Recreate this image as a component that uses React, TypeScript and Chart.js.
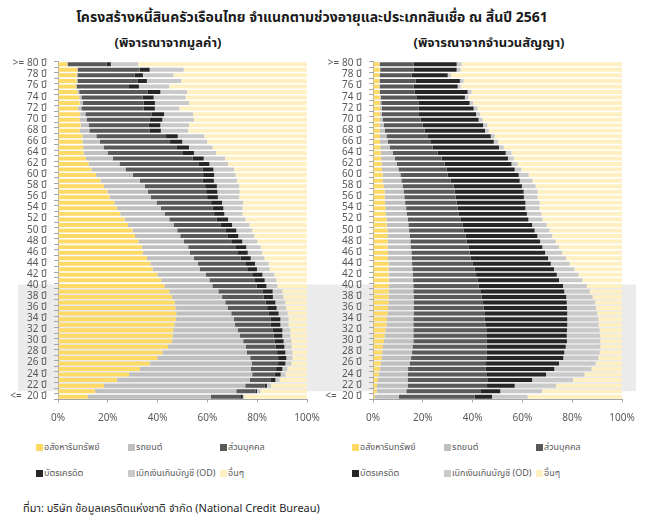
import React, { useEffect, useRef } from 'react';
import { Chart, registerables } from 'chart.js';

Chart.register(...registerables);

// ---------- DATA ----------
const AGES = [
  20, 21, 22, 23, 24, 25, 26, 27, 28, 29,
  30, 31, 32, 33, 34, 35, 36, 37, 38, 39,
  40, 41, 42, 43, 44, 45, 46, 47, 48, 49,
  50, 51, 52, 53, 54, 55, 56, 57, 58, 59,
  60, 61, 62, 63, 64, 65, 66, 67, 68, 69,
  70, 71, 72, 73, 74, 75, 76, 77, 78, 79,
  80,
];
const FIRST_LABEL = '<=  20 ปี';
const LAST_LABEL = '>= 80 ปี';
const AGE_UNIT = 'ปี';

const TITLE = 'โครงสร้างหนี้สินครัวเรือนไทย จำแนกตามช่วงอายุและประเภทสินเชื่อ ณ สิ้นปี 2561';
const SUBTITLE_LEFT = '(พิจารณาจากมูลค่า)';
const SUBTITLE_RIGHT = '(พิจารณาจากจำนวนสัญญา)';
const SOURCE = 'ที่มา: บริษัท ข้อมูลเครดิตแห่งชาติ จำกัด (National Credit Bureau)';

const SERIES_NAMES = ['อสังหาริมทรัพย์', 'รถยนต์', 'ส่วนบุคคล', 'บัตรเครดิต', 'เบิกเงินเกินบัญชี (OD)', 'อื่นๆ'];
const SERIES_COLORS = ['#FFD966', '#BFBFBF', '#595959', '#262626', '#C9C9C9', '#FFF0C2'];

const X_TICKS = [0, 20, 40, 60, 80, 100];
const BAND_TOP_AGE = 40;
const BAND_BOTTOM_AGE = 21;

// share of outstanding value (%), ages 20..80
const valueRealEstate = [
  11.9, 14.9, 18.5, 23.6, 28.5, 32.9, 36.8, 39.9, 41.9, 44.2,
  45.8, 46.1, 46.3, 46.7, 47.3, 47.5, 47.1, 46.9, 45.8, 44.7,
  42.7, 41.4, 39.9, 38.0, 37.1, 35.7, 34.1, 33.7, 32.3, 30.9,
  29.9, 28.1, 26.7, 25.0, 23.6, 22.6, 20.7, 19.9, 18.4, 17.0,
  15.3, 13.4, 12.3, 11.1, 10.3, 10.1, 9.8, 9.8, 8.7, 9.1,
  8.7, 8.9, 7.9, 8.7, 8.5, 7.8, 7.2, 7.5, 7.5, 7.7,
  3.6,
];
const valueCar = [
  49.4, 56.7, 56.7, 53.5, 49.5, 44.6, 41.0, 37.3, 34.0, 31.2,
  28.6, 27.0, 25.9, 24.4, 23.4, 22.1, 21.0, 20.3, 20.1, 19.7,
  19.3, 19.4, 19.4, 18.9, 19.1, 18.9, 18.9, 18.6, 18.3, 18.2,
  18.0, 18.3, 18.0, 17.8, 17.7, 17.0, 16.5, 16.2, 16.4, 15.9,
  14.8, 13.7, 12.4, 10.9, 9.6, 8.2, 7.0, 5.6, 3.9, 3.2,
  2.8, 2.1, 1.5, 1.2, 0.9, 0.7, 0.3, 0.3, 0.3, 0.2,
  0.3,
];
const valuePersonal = [
  12.2, 7.7, 7.8, 8.4, 9.1, 10.1, 10.6, 11.2, 12.1, 12.0,
  12.5, 13.5, 14.1, 14.4, 14.8, 15.1, 15.9, 16.2, 16.7, 17.7,
  17.8, 18.3, 18.7, 19.1, 19.0, 18.8, 19.0, 18.9, 19.0, 18.9,
  19.3, 19.0, 19.1, 19.9, 20.8, 21.9, 22.7, 23.4, 24.3, 25.1,
  28.2, 30.9, 31.9, 32.1, 30.3, 29.5, 28.2, 28.0, 24.3, 24.2,
  25.4, 26.7, 25.0, 24.5, 24.6, 27.6, 21.0, 24.1, 22.9, 24.9,
  15.6,
];
const valueCreditCard = [
  0.7, 0.6, 0.9, 1.8, 2.3, 2.5, 2.9, 3.3, 3.3, 3.5,
  3.7, 3.5, 3.8, 3.8, 3.8, 3.9, 3.8, 3.9, 3.7, 4.1,
  3.9, 3.9, 4.1, 3.9, 3.9, 4.0, 4.2, 4.4, 4.4, 4.4,
  4.4, 4.5, 4.5, 4.1, 4.3, 4.4, 4.3, 4.5, 4.7, 4.6,
  4.4, 4.4, 4.2, 4.4, 4.4, 4.8, 4.9, 4.7, 4.4, 4.6,
  5.0, 4.9, 4.5, 4.5, 4.4, 5.0, 4.0, 3.8, 3.4, 4.0,
  1.7,
];
const valueOD = [
  0.6, 1.4, 1.6, 1.7, 2.0, 2.0, 2.4, 2.4, 2.8, 2.9,
  3.1, 3.2, 3.1, 3.3, 3.3, 3.6, 3.8, 4.0, 4.2, 3.9,
  4.4, 4.7, 4.8, 5.1, 5.5, 5.5, 5.7, 5.8, 6.1, 6.4,
  6.4, 7.0, 7.0, 7.3, 7.7, 8.5, 8.6, 9.0, 9.0, 9.3,
  8.6, 8.3, 7.5, 8.6, 8.9, 9.5, 10.0, 10.7, 11.0, 11.5,
  12.7, 11.6, 9.8, 13.7, 12.9, 10.7, 12.2, 13.8, 12.3, 13.7,
  11.0,
];
const valueOther = [
  25.2, 18.7, 14.5, 11.0, 8.6, 7.9, 6.3, 5.9, 5.9, 6.2,
  6.3, 6.7, 6.8, 7.4, 7.4, 7.8, 8.4, 8.7, 9.5, 9.9,
  11.9, 12.3, 13.1, 15.0, 15.4, 17.1, 18.1, 18.6, 19.9, 21.2,
  22.0, 23.1, 24.7, 25.9, 25.9, 25.6, 27.2, 27.0, 27.2, 28.1,
  28.7, 29.3, 31.7, 32.9, 36.5, 37.9, 40.1, 41.2, 47.7, 47.4,
  45.4, 45.8, 51.3, 47.4, 48.7, 48.2, 55.3, 50.5, 53.6, 49.5,
  67.8,
];

// share of number of contracts (%), ages 20..80
const countRealEstate = [
  0.7, 1.5, 1.6, 1.9, 2.3, 2.7, 3.1, 3.5, 3.7, 4.0,
  4.4, 4.7, 5.0, 5.4, 5.6, 5.9, 6.0, 6.2, 6.3, 6.3,
  6.3, 6.3, 6.3, 6.2, 6.2, 6.0, 6.0, 5.9, 5.9, 5.8,
  5.8, 5.5, 5.4, 5.1, 5.0, 4.8, 4.7, 4.7, 4.3, 4.0,
  3.9, 3.6, 3.5, 3.3, 3.1, 2.9, 2.8, 2.8, 2.7, 2.7,
  2.7, 2.8, 2.8, 2.8, 2.7, 2.5, 2.5, 2.5, 2.5, 2.7,
  2.5,
];
const countCar = [
  9.7, 11.9, 12.3, 12.0, 11.6, 11.4, 11.6, 11.8, 12.0, 11.9,
  11.8, 11.5, 11.2, 10.8, 10.6, 10.4, 10.3, 10.1, 10.0, 9.9,
  9.9, 9.8, 9.6, 9.6, 9.5, 9.5, 9.4, 9.2, 9.1, 8.9,
  8.7, 8.7, 8.5, 8.4, 8.3, 8.1, 7.9, 7.6, 7.6, 7.4,
  7.1, 6.6, 6.1, 5.5, 4.8, 3.8, 3.2, 2.6, 2.0, 1.6,
  1.2, 0.7, 0.7, 0.5, 0.4, 0.3, 0.3, 0.3, 0.3, 0.2,
  0.3,
];
const countPersonal = [
  30.4, 29.7, 31.9, 32.0, 31.6, 31.1, 30.7, 30.2, 29.9, 29.7,
  29.4, 29.3, 29.3, 28.9, 28.6, 28.4, 28.1, 27.9, 27.3, 26.9,
  26.2, 25.8, 25.5, 25.0, 24.2, 23.7, 23.4, 23.2, 22.6, 22.4,
  21.8, 21.7, 21.2, 21.0, 20.7, 20.7, 20.6, 20.5, 20.5, 19.7,
  19.0, 19.4, 19.2, 18.8, 18.1, 17.3, 17.0, 16.4, 16.0, 15.6,
  15.2, 15.0, 14.8, 14.9, 14.3, 13.9, 13.5, 14.3, 12.7, 13.4,
  13.5,
];
const countCreditCard = [
  7.0, 8.0, 11.1, 18.0, 24.0, 27.6, 29.3, 30.9, 31.2, 31.8,
  32.3, 32.3, 32.4, 32.9, 33.2, 33.3, 33.5, 33.6, 34.0, 33.7,
  33.9, 32.8, 32.4, 31.9, 31.5, 31.1, 30.3, 29.7, 29.5, 28.9,
  28.6, 28.0, 27.3, 27.3, 27.2, 27.6, 27.4, 27.7, 27.4, 27.8,
  28.5, 27.3, 26.8, 26.6, 27.3, 26.6, 25.5, 25.5, 24.3, 24.3,
  23.3, 22.9, 22.1, 20.6, 19.5, 21.3, 17.7, 17.8, 14.5, 17.3,
  17.3,
];
const countOD = [
  14.3, 16.8, 16.6, 16.4, 15.4, 14.9, 14.7, 14.1, 14.2, 13.9,
  13.4, 13.4, 13.1, 12.6, 12.5, 12.1, 11.7, 11.4, 10.6, 10.2,
  9.6, 9.4, 8.8, 8.2, 7.6, 7.2, 6.9, 6.7, 6.3, 6.0,
  6.0, 5.8, 5.7, 5.8, 5.7, 5.7, 5.5, 5.6, 5.5, 5.2,
  4.0, 2.7, 2.5, 2.3, 2.3, 1.9, 1.8, 1.6, 1.5, 1.7,
  1.6, 1.6, 1.6, 1.4, 1.5, 1.6, 1.2, 1.5, 1.3, 1.6,
  2.0,
];
const countOther = [
  37.9, 32.1, 26.5, 19.7, 15.1, 12.3, 10.6, 9.5, 9.0, 8.7,
  8.7, 8.8, 9.0, 9.4, 9.5, 9.9, 10.4, 10.8, 11.8, 13.0,
  14.1, 15.9, 17.4, 19.1, 21.0, 22.5, 24.0, 25.3, 26.6, 28.0,
  29.1, 30.3, 31.9, 32.4, 33.1, 33.1, 33.9, 33.9, 34.7, 35.9,
  37.5, 40.4, 41.9, 43.5, 44.4, 47.5, 49.7, 51.1, 53.5, 54.1,
  56.0, 57.0, 58.0, 59.8, 61.6, 60.4, 64.8, 63.6, 68.7, 64.8,
  64.4,
];

const VALUE_SERIES = [valueRealEstate, valueCar, valuePersonal, valueCreditCard, valueOD, valueOther];
const COUNT_SERIES = [countRealEstate, countCar, countPersonal, countCreditCard, countOD, countOther];

// ---------- STYLE ----------
const FONT = "'Noto Sans Thai', Tahoma, 'Noto Sans', 'DejaVu Sans', sans-serif";
const TEXT_GRAY = '#595959';
const AXIS_GRAY = '#A6A6A6';
const BAND_COLOR = '#EBEBEB';

function ageLabel(age: number, i: number) {
  if (i === 0) return FIRST_LABEL;
  if (i === AGES.length - 1) return LAST_LABEL;
  return `${age} ${AGE_UNIT}`;
}

const bandPlugin = {
  id: 'ageBand',
  beforeDraw(chart: any, _args: any, opts: any) {
    const y = chart.scales.y;
    const area = chart.chartArea;
    const step = Math.abs(y.getPixelForValue(1) - y.getPixelForValue(0));
    const top = y.getPixelForValue(AGES.indexOf(BAND_TOP_AGE)) - step * 0.25;
    const bottom = y.getPixelForValue(AGES.indexOf(BAND_BOTTOM_AGE));
    const left = opts.extendLeft === 'canvas' ? 0 : area.left - opts.extendLeft;
    const right = opts.extendRight === 'canvas' ? chart.width : area.right + opts.extendRight;
    const ctx = chart.ctx;
    ctx.save();
    ctx.fillStyle = BAND_COLOR;
    ctx.fillRect(left, Math.min(top, bottom), right - left, Math.abs(bottom - top));
    ctx.restore();
  },
};

interface PanelProps {
  series: number[][];
  width: number;
  height: number;
  axisWidth: number;
  padRight: number;
  padTop: number;
  xAxisHeight: number;
  bandLeft: number | 'canvas';
  bandRight: number | 'canvas';
}

function Panel(props: PanelProps) {
  const ref = useRef<HTMLCanvasElement>(null);
  useEffect(() => {
    if (!ref.current) return;
    const chart = new Chart(ref.current, {
      type: 'bar',
      data: {
        labels: AGES.map((a, i) => ageLabel(a, i)),
        datasets: SERIES_NAMES.map((name, k) => ({
          label: name,
          data: props.series[k],
          backgroundColor: SERIES_COLORS[k],
          borderWidth: 0,
          barPercentage: 0.72,
          categoryPercentage: 1,
        })),
      },
      options: {
        indexAxis: 'y',
        animation: false,
        responsive: false,
        devicePixelRatio: 1,
        layout: { padding: { left: 0, right: props.padRight, top: props.padTop, bottom: 0 } },
        plugins: {
          legend: { display: false },
          tooltip: { enabled: false },
          title: { display: false },
          ageBand: { extendLeft: props.bandLeft, extendRight: props.bandRight },
        } as any,
        scales: {
          x: {
            stacked: true,
            min: 0,
            max: 100,
            afterFit: (s: any) => {
              s.height = props.xAxisHeight;
              s.paddingLeft = 0;
              s.paddingRight = 0;
            },
            afterBuildTicks: (s: any) => { s.ticks = X_TICKS.map((v) => ({ value: v })); },
            border: { display: true, color: AXIS_GRAY, width: 1 },
            grid: { display: true, drawOnChartArea: false, drawTicks: true, tickLength: 3, color: AXIS_GRAY },
            ticks: {
              padding: 10,
              color: TEXT_GRAY,
              font: { family: FONT, size: 10 },
              callback: (v: any) => `${v}%`,
            },
          },
          y: {
            stacked: true,
            reverse: true,
            afterFit: (s: any) => {
              s.width = props.axisWidth;
              s.paddingTop = 0;
              s.paddingBottom = 0;
            },
            border: { display: true, color: AXIS_GRAY, width: 1 },
            grid: { display: true, drawOnChartArea: false, drawTicks: true, tickLength: 4, color: AXIS_GRAY, offset: true },
            ticks: {
              autoSkip: false,
              padding: 7,
              color: TEXT_GRAY,
              font: { family: FONT, size: 10 },
              callback: function (this: any, _v: any, i: number) {
                return (AGES[i] - AGES[0]) % 2 === 0 ? this.getLabelForValue(i) : '';
              },
            },
          },
        },
      },
      plugins: [bandPlugin],
    } as any);
    return () => chart.destroy();
  }, []);
  return <canvas ref={ref} width={props.width} height={props.height} style={{ display: 'block' }} />;
}

function Legend({ left, top }: { left: number; top: number }) {
  const colX = [0, 92, 184];
  const rowY = [0, 26];
  return (
    <>
      {SERIES_NAMES.map((name, k) => (
        <div
          key={name}
          style={{
            position: 'absolute',
            left: left + colX[k % 3],
            top: top + rowY[Math.floor(k / 3)],
            display: 'flex',
            alignItems: 'center',
            height: 14,
            fontSize: 9,
            color: TEXT_GRAY,
            whiteSpace: 'nowrap',
          }}
        >
          <span style={{ display: 'inline-block', width: 7, height: 7, background: SERIES_COLORS[k], marginRight: 1 }} />
          <span>{name}</span>
        </div>
      ))}
    </>
  );
}

export default function App() {
  return (
    <div
      style={{
        position: 'absolute',
        left: 0,
        top: 0,
        width: 648,
        height: 518,
        background: '#FFFFFF',
        fontFamily: FONT,
        overflow: 'hidden',
      }}
    >
      <div style={{ position: 'absolute', left: 0, width: 624, top: 7, textAlign: 'center', fontSize: 14, fontWeight: 700, color: '#1A1A1A', whiteSpace: 'nowrap' }}>
        {TITLE}
      </div>
      <div style={{ position: 'absolute', left: 68, width: 200, top: 33, textAlign: 'center', fontSize: 13, fontWeight: 700, color: '#1A1A1A', whiteSpace: 'nowrap' }}>
        {SUBTITLE_LEFT}
      </div>
      <div style={{ position: 'absolute', left: 389, width: 200, top: 33, textAlign: 'center', fontSize: 13, fontWeight: 700, color: '#1A1A1A', whiteSpace: 'nowrap' }}>
        {SUBTITLE_RIGHT}
      </div>

      <div style={{ position: 'absolute', left: 0, top: 55 }}>
        <Panel
          series={VALUE_SERIES}
          width={320}
          height={370}
          axisWidth={58}
          padRight={13}
          padTop={6.5}
          xAxisHeight={25.5}
          bandLeft={40}
          bandRight={'canvas'}
        />
      </div>
      <div style={{ position: 'absolute', left: 320, top: 55 }}>
        <Panel
          series={COUNT_SERIES}
          width={328}
          height={370}
          axisWidth={53}
          padRight={26}
          padTop={6.5}
          xAxisHeight={25.5}
          bandLeft={'canvas'}
          bandRight={14}
        />
      </div>

      <Legend left={36} top={440} />
      <Legend left={352} top={440} />

      <div style={{ position: 'absolute', left: 23, top: 500, fontSize: 11, color: '#262626', whiteSpace: 'nowrap' }}>
        {SOURCE}
      </div>
    </div>
  );
}
